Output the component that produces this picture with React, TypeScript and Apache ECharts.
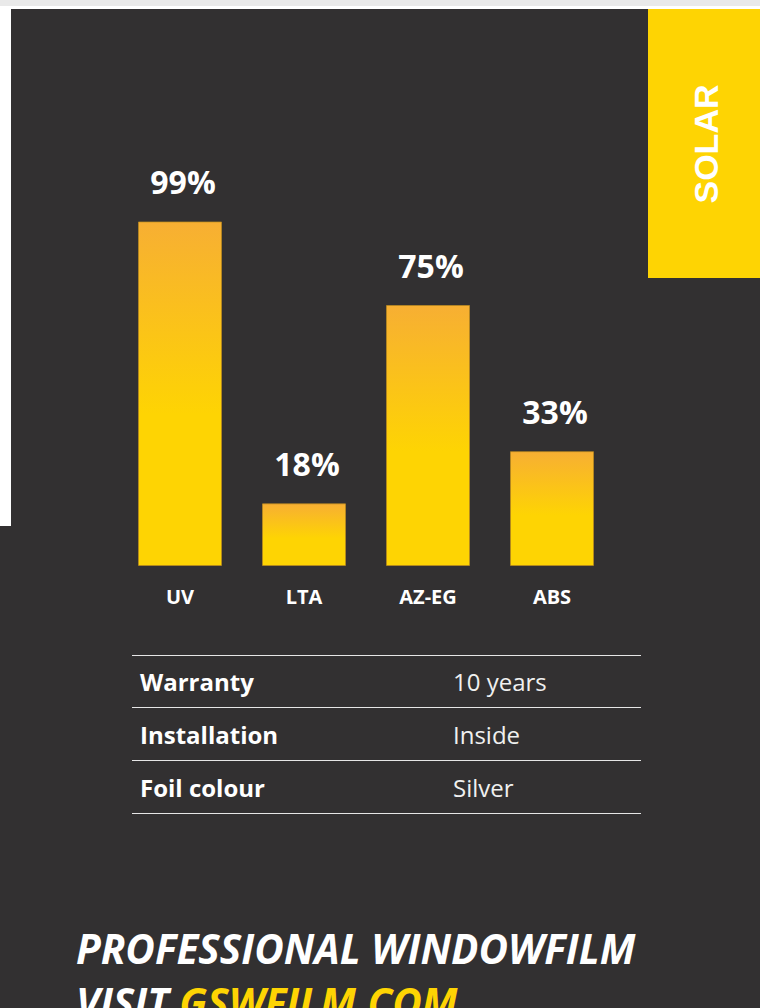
import React, { useEffect, useRef } from "react";
import * as echarts from "echarts";

const categories = ["UV", "LTA", "AZ-EG", "ABS"];
const values = [99, 18, 75, 33];
const tableKeys = ["Warranty", "Installation", "Foil colour"];
const tableValues = ["10 years", "Inside", "Silver"];
const badgeText = "SOLAR";
const footerLine1 = "PROFESSIONAL WINDOWFILM";
const footerLine2a = "VISIT ";
const footerLine2b = "GSWFILM.COM";

const DARK = "#323031";
const YELLOW = "#fed403";
const FONT = "'Open Sans', 'Noto Sans', sans-serif";

export default function App() {
  const ref = useRef<HTMLDivElement>(null);

  useEffect(() => {
    document.body.style.margin = "0";
    if (!ref.current) return;
    const chart = echarts.init(ref.current, undefined, { renderer: "svg" });

    const rowYs = [681, 734, 787];
    const lineYs = [655.5, 707.5, 760.5, 813.5];

    const graphics: any[] = [
      { type: "rect", shape: { x: 0, y: 0, width: 760, height: 6 }, style: { fill: "#e9e9e9" }, silent: true },
      { type: "rect", shape: { x: 0, y: 6, width: 760, height: 3 }, style: { fill: "#ffffff" }, silent: true },
      { type: "rect", shape: { x: 0, y: 9, width: 11, height: 517 }, style: { fill: "#ffffff" }, silent: true },
      { type: "rect", shape: { x: 648, y: 9, width: 112, height: 269 }, style: { fill: YELLOW }, silent: true },
      {
        type: "text",
        x: 706,
        y: 144,
        rotation: Math.PI / 2,
        style: {
          text: badgeText,
          fill: "#ffffff",
          font: "bold 34px 'Liberation Sans', Arial, sans-serif",
          textAlign: "center",
          textVerticalAlign: "middle",
        },
        silent: true,
      },
    ];

    lineYs.forEach((y) => {
      graphics.push({
        type: "line",
        shape: { x1: 132, y1: y, x2: 641, y2: y },
        style: { stroke: "#e6e6e6", lineWidth: 1 },
        silent: true,
      });
    });

    tableKeys.forEach((k, i) => {
      graphics.push({
        type: "text",
        x: 140,
        y: rowYs[i],
        style: {
          text: k,
          fill: "#ffffff",
          font: `bold 24px ${FONT}`,
          textAlign: "left",
          textVerticalAlign: "middle",
        },
        silent: true,
      });
      graphics.push({
        type: "text",
        x: 453,
        y: rowYs[i],
        style: {
          text: tableValues[i],
          fill: "#f0f0f0",
          font: `normal 24px ${FONT}`,
          textAlign: "left",
          textVerticalAlign: "middle",
        },
        silent: true,
      });
    });

    graphics.push({
      type: "text",
      x: 76,
      y: 948,
      style: {
        text: footerLine1,
        fill: "#ffffff",
        font: `italic bold 40.5px ${FONT}`,
        textAlign: "left",
        textVerticalAlign: "middle",
      },
      silent: true,
    });
    graphics.push({
      type: "text",
      x: 76,
      y: 1002,
      style: {
        text: `{w|${footerLine2a}}{y|${footerLine2b}}`,
        textAlign: "left",
        textVerticalAlign: "middle",
        rich: {
          w: { fill: "#ffffff", font: `italic bold 40.5px ${FONT}` },
          y: { fill: YELLOW, font: `italic bold 40.5px ${FONT}` },
        },
      },
      silent: true,
    });

    chart.setOption({
      animation: false,
      backgroundColor: DARK,
      grid: { left: 118, width: 496, top: 218, bottom: 442, containLabel: false },
      xAxis: {
        type: "category",
        data: categories,
        axisLine: { show: false },
        axisTick: { show: false },
        splitLine: { show: false },
        axisLabel: {
          color: "#ffffff",
          fontFamily: FONT,
          fontWeight: "bold",
          fontSize: 20,
          margin: 20,
        },
      },
      yAxis: {
        type: "value",
        min: 0,
        max: 100,
        show: false,
        splitLine: { show: false },
      },
      series: [
        {
          type: "bar",
          data: values,
          barWidth: 84,
          itemStyle: {
            color: new echarts.graphic.LinearGradient(0, 0, 0, 1, [
              { offset: 0, color: "#f7af33" },
              { offset: 0.56, color: "#fed403" },
              { offset: 1, color: "#fed403" },
            ]),
            borderColor: "rgba(190,140,30,0.7)",
            borderWidth: 1,
          },
          label: {
            show: true,
            position: "top",
            distance: 24,
            offset: [3, 0],
            formatter: "{c}%",
            color: "#ffffff",
            fontFamily: FONT,
            fontWeight: "bold",
            fontSize: 32,
          },
        },
      ],
      graphic: graphics,
    });

    return () => chart.dispose();
  }, []);

  return (
    <div
      ref={ref}
      style={{ position: "absolute", left: 0, top: 0, width: 760, height: 1008 }}
    />
  );
}
